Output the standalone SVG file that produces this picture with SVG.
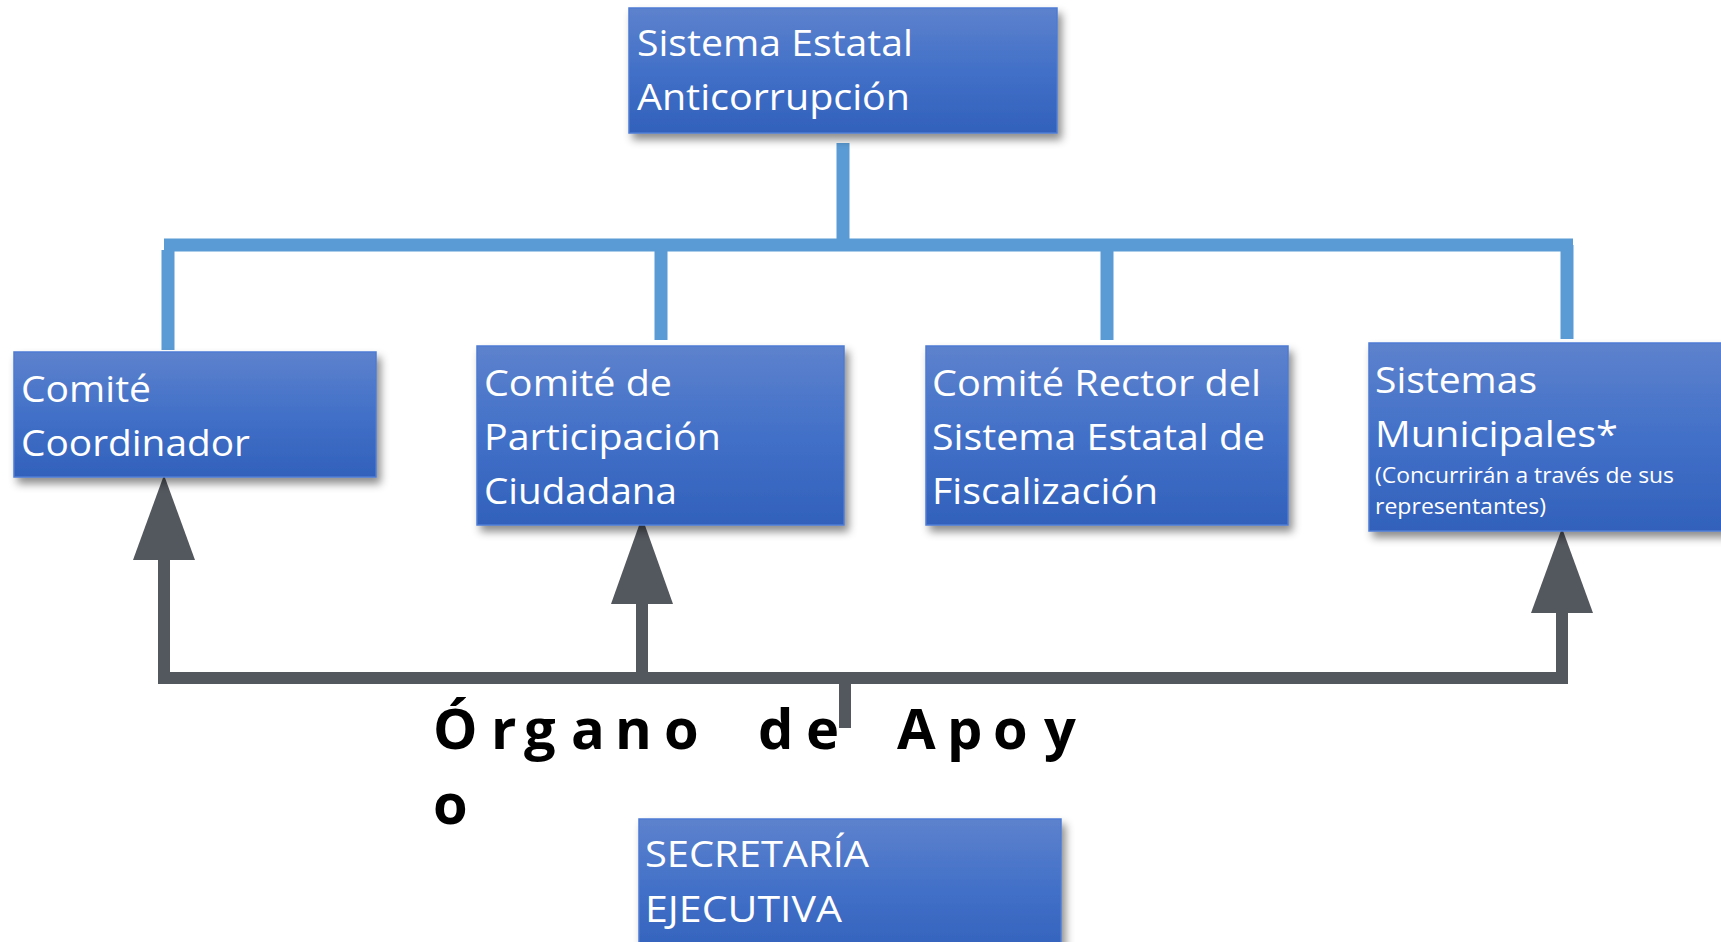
<svg xmlns="http://www.w3.org/2000/svg" width="1721" height="942" viewBox="0 0 1721 942">
<style>
.box{fill:url(#g);stroke:#4d7bd3;stroke-width:1.5;filter:url(#sh)}
.t{font-family:"Open Sans","Noto Sans","DejaVu Sans",sans-serif;font-size:36px;fill:#ffffff}
.s{font-family:"Open Sans","Noto Sans","DejaVu Sans",sans-serif;font-size:21px;fill:#ffffff}
.blue{stroke:#5b9bd5;stroke-width:13;fill:none;stroke-linecap:butt}
.gray{stroke:#53575e;stroke-width:12;fill:none;stroke-linecap:butt}
.head{fill:#53575e}
.lbl{font-family:"Open Sans","Noto Sans","DejaVu Sans",sans-serif;font-size:56px;font-weight:bold;fill:#000000}
</style>
<defs>
<linearGradient id="g" x1="0" y1="0" x2="0" y2="1">
<stop offset="0" stop-color="#5d82cd"/>
<stop offset="0.5" stop-color="#4270c8"/>
<stop offset="1" stop-color="#3161bb"/>
</linearGradient>
<filter id="sh" x="-10%" y="-10%" width="130%" height="140%">
<feDropShadow dx="4" dy="6" stdDeviation="4" flood-color="#000000" flood-opacity="0.45"/>
</filter>
</defs>
<rect width="1721" height="942" fill="#ffffff"/>
<g id="connectors">
<path class="blue" d="M843 143V245M164 245H1573M168 250V350M661 245V340M1107 245V340M1567 245V339"/>
<path class="gray" d="M158 678H1568M164 558V684M642 602V684M1562 611V684M845 678V728"/>
<polygon class="head" points="164,475 195,560 133,560"/>
<polygon class="head" points="642,517 673,604 611,604"/>
<polygon class="head" points="1562,528 1593,613 1531,613"/>
</g>
<g id="sistema-estatal">
<rect class="box" x="629" y="8" width="428" height="125"/>
<text class="t" x="637" y="56" textLength="276" lengthAdjust="spacingAndGlyphs">Sistema Estatal</text>
<text class="t" x="637" y="110" textLength="273" lengthAdjust="spacingAndGlyphs">Anticorrupción</text>
</g>
<g id="comite-coordinador">
<rect class="box" x="14" y="352" width="362" height="125"/>
<text class="t" x="21" y="402" textLength="130" lengthAdjust="spacingAndGlyphs">Comité</text>
<text class="t" x="21" y="456" textLength="229" lengthAdjust="spacingAndGlyphs">Coordinador</text>
</g>
<g id="comite-participacion">
<rect class="box" x="477" y="346" width="367" height="179"/>
<text class="t" x="484" y="396" textLength="188" lengthAdjust="spacingAndGlyphs">Comité de</text>
<text class="t" x="484" y="450" textLength="237" lengthAdjust="spacingAndGlyphs">Participación</text>
<text class="t" x="484" y="504" textLength="193" lengthAdjust="spacingAndGlyphs">Ciudadana</text>
</g>
<g id="comite-rector">
<rect class="box" x="926" y="346" width="362" height="179"/>
<text class="t" x="932" y="396" textLength="329" lengthAdjust="spacingAndGlyphs">Comité Rector del</text>
<text class="t" x="932" y="450" textLength="333" lengthAdjust="spacingAndGlyphs">Sistema Estatal de</text>
<text class="t" x="932" y="504" textLength="226" lengthAdjust="spacingAndGlyphs">Fiscalización</text>
</g>
<g id="sistemas-municipales">
<rect class="box" x="1369" y="343" width="370" height="188"/>
<text class="t" x="1375" y="393" textLength="162" lengthAdjust="spacingAndGlyphs">Sistemas</text>
<text class="t" x="1375" y="447" textLength="243" lengthAdjust="spacingAndGlyphs">Municipales*</text>
<text class="s" x="1375" y="483" textLength="299" lengthAdjust="spacingAndGlyphs">(Concurrirán a través de sus</text>
<text class="s" x="1375" y="514" textLength="171" lengthAdjust="spacingAndGlyphs">representantes)</text>
</g>
<g id="organo-apoyo">
<text class="lbl" x="433 491 524 571 615 664 710 758 806 850 897 947 993 1044" y="749">Órgano de Apoy</text>
<text class="lbl" x="433" y="824">o</text>
</g>
<g id="secretaria-ejecutiva">
<rect class="box" x="639" y="819" width="422" height="140"/>
<text class="t" x="645" y="867" textLength="224" lengthAdjust="spacingAndGlyphs">SECRETARÍA</text>
<text class="t" x="645" y="922" textLength="197" lengthAdjust="spacingAndGlyphs">EJECUTIVA</text>
</g>
</svg>
